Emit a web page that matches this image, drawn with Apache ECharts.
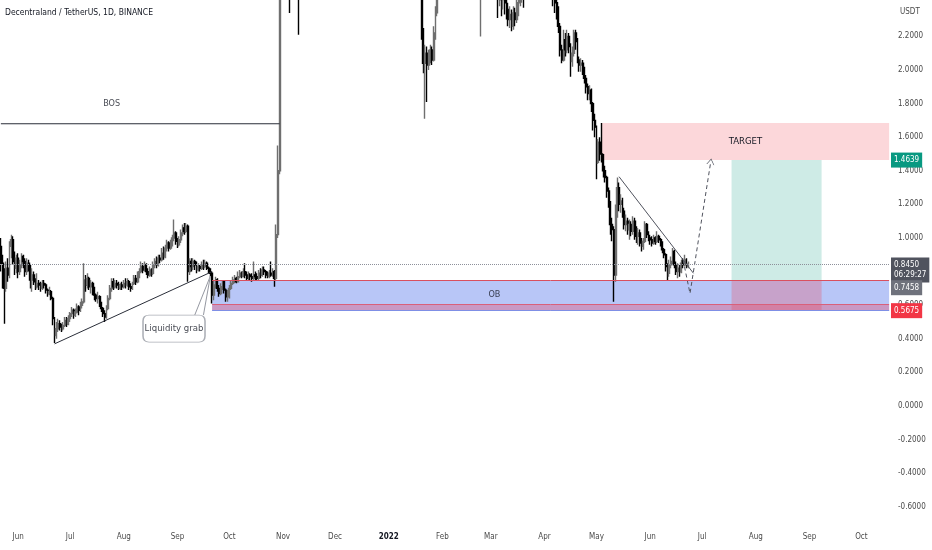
<!DOCTYPE html>
<html>
<head>
<meta charset="utf-8">
<title>Decentraland / TetherUS</title>
<script src="https://cdn.jsdelivr.net/npm/echarts@6/dist/echarts.min.js"></script>
<style>
html,body{margin:0;padding:0;background:#ffffff;}
#chart{width:932px;height:550px;}
</style>
</head>
<body>
<div id="chart"></div>
<script>
// ---------------- data (daily candles, first candle 2021-05-22) ----------------
const firstDate = '2021-05-22';
const axisLastDate = '2022-10-17';
const axisDayCount = 514;
const firstOpen = 0.95;

const closes = [
  // May 22-31 2021
  0.85,0.75,0.70,0.82,0.78,0.95,0.99,0.86,0.82,0.88,
  // Jun 2021
  0.80,0.84,0.89,0.86,0.80,0.85,0.83,0.75,0.78,0.74, 0.71,0.73,0.72,0.70,0.73,0.72,0.69,0.67,0.68,0.64,
  0.52,0.42,0.46,0.49,0.47,0.46,0.48,0.51,0.49,0.52,
  // Jul 2021
  0.55,0.57,0.54,0.56,0.59,0.57,0.60,0.62,0.75,0.72, 0.76,0.71,0.73,0.69,0.66,0.64,0.65,0.61,0.58,0.55,
  0.53,0.58,0.64,0.70,0.74,0.71,0.73,0.72,0.70,0.72, 0.71,
  // Aug 2021
  0.73,0.72,0.74,0.71,0.70,0.73,0.76,0.74,0.78,0.80, 0.83,0.81,0.84,0.80,0.78,0.81,0.79,0.84,0.86,0.84,
  0.88,0.87,0.91,0.89,0.94,0.97,0.94,0.96,1.00,1.03, 0.98,
  // Sep 2021
  0.96,0.99,1.03,1.06,1.04,1.07,0.80,0.86,0.83,0.86, 0.84,0.81,0.83,0.82,0.84,0.83,0.85,0.82,0.81,0.79,
  0.66,0.72,0.75,0.70,0.67,0.71,0.74,0.69,0.65,0.67,
  // Oct 2021
  0.70,0.73,0.75,0.76,0.74,0.77,0.79,0.77,0.80,0.78, 0.76,0.78,0.77,0.76,0.78,0.77,0.76,0.79,0.78,0.81,
  0.80,0.78,0.77,0.79,0.78,0.80,0.76,1.02,1.40,2.75, 3.10,
  // Nov 2021
  2.90,2.75,2.70,2.80,2.62,2.75,2.90,3.05,2.80,2.70, 2.95,3.10,3.30,3.20,3.45,3.35,3.60,3.55,3.75,4.10,
  4.60,4.90,5.30,5.00,4.70,4.55,4.40,4.20,4.00,3.85,
  // Dec 2021
  3.70,3.90,3.55,3.40,3.20,3.35,3.30,3.10,3.00,3.15, 3.05,2.90,3.05,2.95,3.10,3.20,3.40,3.30,3.35,3.55,
  3.70,3.60,3.50,3.65,3.45,3.30,3.20,3.25,3.15,3.05, 3.10,
  // Jan 2022
  3.20,3.30,3.35,3.15,3.00,2.85,2.90,2.80,2.75,2.85, 3.00,3.10,3.05,3.00,3.10,3.00,2.85,2.90,2.75,2.22,
  2.04,2.10,2.03,2.08,2.12,2.06,2.22,2.34,2.50,2.60, 2.55,
  // Feb 2022
  2.70,2.80,2.65,2.90,3.10,3.25,3.20,3.10,3.20,3.05, 2.90,2.85,2.80,2.95,2.90,2.75,2.65,2.70,2.60,2.55,
  2.62,2.55,2.65,2.75,2.70,2.85,2.95,2.90,
  // Mar 2022
  2.80,2.70,2.60,2.50,2.45,2.50,2.42,2.48,2.40,2.36, 2.30,2.33,2.26,2.34,2.30,2.40,2.45,2.52,2.58,2.55,
  2.65,2.62,2.75,2.85,2.80,2.90,2.95,3.00,2.90,2.85, 2.80,
  // Apr 2022
  2.85,2.95,2.90,2.85,2.55,2.45,2.40,2.36,2.26,2.12, 2.06,2.18,2.12,2.20,2.14,2.05,2.10,2.22,2.17,2.06,
  2.03,2.04,2.00,1.95,1.90,1.86,1.88,1.80,1.70,1.66,
  // May 2022
  1.45,1.57,1.50,1.47,1.40,1.36,1.28,1.21,1.08,1.05, 0.78,1.15,1.30,1.20,1.22,1.16,1.08,1.10,1.05,1.08,
  1.04,1.10,1.05,1.01,1.03,0.97,0.95,0.98,1.08,1.02, 1.00,
  // Jun 1-23 2022
  0.99,0.97,1.00,0.98,1.01,0.99,0.97,0.93,0.90,0.83, 0.79,0.84,0.86,0.92,0.84,0.80,0.82,0.80,0.85,0.84,
  0.87,0.83,0.845
];

const highs = [
  1.00,0.90,0.82,0.86,0.88,0.98,1.02,1.01,0.92,0.90,
  0.91,0.87,0.91,0.90,0.88,0.88,0.87,0.84,0.82,0.80, 0.76,0.79,0.75,0.74,0.75,0.75,0.73,0.70,0.71,0.69,
  0.65,0.53,0.50,0.52,0.51,0.49,0.50,0.53,0.53,0.54,
  0.56,0.59,0.58,0.58,0.61,0.60,0.62,0.64,0.85,0.78, 0.79,0.77,0.75,0.74,0.71,0.67,0.68,0.66,0.62,0.59,
  0.57,0.60,0.66,0.72,0.76,0.76,0.75,0.75,0.74,0.73, 0.74,
  0.75,0.76,0.76,0.75,0.73,0.74,0.78,0.78,0.80,0.82, 0.86,0.85,0.86,0.85,0.82,0.83,0.82,0.86,0.88,0.89,
  0.90,0.90,0.94,0.95,0.96,0.99,0.98,0.99,1.02,1.11, 1.04,
  1.00,1.01,1.05,1.08,1.09,1.09,1.08,0.88,0.88,0.88, 0.87,0.86,0.85,0.84,0.86,0.87,0.87,0.86,0.83,0.82,
  0.80,0.75,0.77,0.76,0.72,0.73,0.75,0.74,0.70,0.69,
  0.72,0.75,0.77,0.78,0.77,0.80,0.81,0.80,0.82,0.85, 0.80,0.80,0.79,0.79,0.86,0.80,0.79,0.81,0.82,0.83,
  0.83,0.81,0.80,0.81,0.86,0.82,0.81,1.08,1.55,3.20, 3.50,
  3.30,3.00,2.95,2.95,2.90,2.85,3.00,3.20,3.10,2.90, 3.05,3.25,3.45,3.45,3.60,3.55,3.80,3.75,3.95,4.30,
  4.80,5.20,5.90,5.50,5.10,4.90,4.70,4.50,4.30,4.10,
  3.95,4.05,3.95,3.65,3.50,3.45,3.50,3.40,3.20,3.25, 3.20,3.10,3.15,3.10,3.20,3.35,3.50,3.50,3.45,3.65,
  3.85,3.80,3.70,3.75,3.70,3.50,3.40,3.35,3.30,3.20, 3.20,
  3.35,3.40,3.50,3.40,3.20,3.05,3.00,2.95,2.90,2.95, 3.10,3.25,3.20,3.15,3.20,3.15,3.05,3.00,2.95,2.80,
  2.25,2.15,2.14,2.12,2.15,2.14,2.26,2.38,2.60,2.70, 2.70,
  2.85,2.90,2.85,2.95,3.20,3.35,3.35,3.25,3.30,3.25, 3.10,2.95,2.95,3.00,3.05,2.95,2.80,2.80,2.75,2.65,
  2.70,2.68,2.70,2.85,2.85,2.95,3.05,3.00,
  2.95,2.85,2.75,2.65,2.55,2.58,2.55,2.56,2.52,2.45, 2.40,2.38,2.36,2.38,2.37,2.48,2.55,2.60,2.65,2.68,
  2.75,2.72,2.85,2.95,2.95,3.00,3.05,3.10,3.05,2.95, 2.90,
  2.95,3.05,3.00,2.95,2.88,2.58,2.50,2.45,2.38,2.28, 2.15,2.24,2.22,2.24,2.22,2.16,2.14,2.24,2.24,2.19,
  2.08,2.07,2.06,2.02,1.97,1.92,1.91,1.89,1.81,1.74,
  1.67,1.59,1.60,1.685,1.50,1.43,1.37,1.30,1.22,1.12, 1.07,1.20,1.36,1.33,1.26,1.24,1.18,1.14,1.12,1.11,
  1.10,1.13,1.12,1.07,1.06,1.05,1.00,1.00,1.10,1.09, 1.04,
  1.02,1.01,1.02,1.01,1.04,1.02,1.00,0.98,0.94,0.91, 0.85,0.87,0.89,0.94,0.93,0.86,0.85,0.84,0.87,0.88,
  0.90,0.88,0.86
];

const lows = [
  0.80,0.70,0.49,0.68,0.74,0.76,0.88,0.84,0.78,0.79,
  0.76,0.78,0.82,0.82,0.77,0.78,0.80,0.70,0.68,0.72, 0.69,0.70,0.69,0.68,0.69,0.70,0.67,0.65,0.66,0.63,
  0.48,0.375,0.40,0.44,0.45,0.44,0.45,0.47,0.47,0.48,
  0.50,0.53,0.52,0.53,0.55,0.54,0.56,0.58,0.61,0.68, 0.70,0.69,0.67,0.66,0.63,0.62,0.61,0.59,0.56,0.53,
  0.50,0.52,0.57,0.63,0.68,0.69,0.70,0.70,0.69,0.69, 0.69,
  0.70,0.70,0.71,0.69,0.68,0.69,0.72,0.72,0.73,0.76, 0.79,0.79,0.80,0.78,0.76,0.77,0.77,0.78,0.82,0.82,
  0.83,0.85,0.86,0.87,0.88,0.92,0.92,0.93,0.95,0.98, 0.96,
  0.94,0.95,0.97,1.01,1.02,1.03,0.74,0.78,0.80,0.81, 0.81,0.79,0.80,0.80,0.81,0.81,0.82,0.81,0.79,0.77,
  0.61,0.63,0.70,0.68,0.65,0.66,0.69,0.67,0.62,0.62,
  0.64,0.69,0.72,0.73,0.73,0.74,0.76,0.76,0.77,0.76, 0.75,0.75,0.75,0.74,0.75,0.75,0.75,0.75,0.76,0.77,
  0.78,0.76,0.76,0.76,0.77,0.77,0.71,0.75,1.00,1.38, 2.60,
  2.70,2.55,2.50,2.55,2.34,2.50,2.65,2.80,2.60,2.21, 2.60,2.85,3.00,3.05,3.15,3.20,3.30,3.35,3.45,3.70,
  4.00,4.40,4.80,4.70,4.40,4.20,4.05,3.90,3.70,3.55,
  3.50,3.60,2.70,3.10,3.00,3.10,3.15,2.95,2.85,2.95, 2.90,2.75,2.80,2.85,2.90,3.00,3.15,3.20,3.20,3.30,
  3.50,3.45,3.40,3.45,3.35,3.20,3.05,3.10,3.00,2.95, 2.95,
  3.05,3.10,3.20,3.05,2.85,2.70,2.75,2.65,2.60,2.65, 2.80,2.95,2.95,2.90,2.95,2.90,2.75,2.75,2.65,2.18,
  1.98,1.71,1.81,2.00,2.04,2.03,2.05,2.18,2.32,2.45, 2.45,
  2.50,2.60,2.55,2.60,2.85,3.05,3.10,3.00,3.05,2.95, 2.80,2.75,2.70,2.75,2.80,2.70,2.55,2.60,2.50,2.45,
  2.48,2.46,2.20,2.55,2.60,2.65,2.75,2.80,
  2.70,2.60,2.50,2.42,2.31,2.38,2.32,2.36,2.33,2.30, 2.26,2.25,2.23,2.24,2.26,2.28,2.32,2.38,2.40,2.37,
  2.45,2.50,2.58,2.70,2.70,2.75,2.80,2.85,2.80,2.75, 2.70,
  2.75,2.80,2.80,2.70,2.48,2.38,2.34,2.30,2.22,2.08, 2.04,2.05,2.08,2.10,2.10,1.96,2.02,2.08,2.12,2.04,
  1.99,1.99,1.97,1.92,1.86,1.82,1.82,1.75,1.64,1.60,
  1.35,1.44,1.46,1.45,1.36,1.33,1.24,1.18,1.02,0.98, 0.62,0.74,1.12,1.16,1.15,1.12,1.05,1.04,1.02,0.99,
  1.01,1.02,0.99,0.97,0.96,0.95,0.92,0.93,0.97,1.00, 0.98,
  0.96,0.95,0.96,0.96,0.97,0.97,0.95,0.91,0.88,0.80, 0.75,0.77,0.82,0.84,0.82,0.78,0.76,0.77,0.79,0.82,
  0.83,0.82,0.82
];

// price levels of the drawings (long position tool, zones)
const entryPrice = 0.7458;
const targetPrice = 1.4639;
const stopPrice = 0.5675;
const lastPrice = 0.8450;
const targetZoneTop = 1.685;
const obBandTop = 0.603;
const bosPrice = 1.68;
const countdown = '06:29:27';

// drawing anchors: [date, price]
const bosLine = [['2021-05-22', bosPrice], ['2021-10-30', bosPrice]];
const riseTrend = [['2021-06-22', 0.37], ['2021-09-21', 0.80]];
const fallTrend = [['2022-05-14', 1.365], ['2022-06-26', 0.79]];
const projection = [['2022-06-20', 0.87], ['2022-06-24', 0.67], ['2022-07-06', 1.455]];
const grabPointer = [['2021-09-11', 0.542], ['2021-09-20', 0.774], ['2021-09-16', 0.542]];
const grabBox = ['2021-08-30', 0.461];
const obStart = '2021-09-21';
const targetStart = '2022-05-04';
const positionStart = '2022-07-18';
const positionEnd = '2022-09-08';
const textMarks = [
  {text: 'BOS', date: '2021-07-25', price: 1.80},
  {text: 'OB', date: '2022-03-03', price: 0.66}
];

const monthNames = ['Jan','Feb','Mar','Apr','May','Jun','Jul','Aug','Sep','Oct','Nov','Dec'];

// ---------------- build ----------------
const FONT = "'Liberation Sans Narrow','DejaVu Sans Condensed','Liberation Sans',sans-serif";
const dates = [];
{
  const t0 = Date.parse(firstDate + 'T00:00:00Z');
  for (let i = 0; i < axisDayCount; i++) {
    dates.push(new Date(t0 + i * 86400000).toISOString().slice(0, 10));
  }
}
const ohlc = closes.map((c, i) => [i ? closes[i - 1] : firstOpen, c, lows[i], highs[i]]);

const tag = (bg, extra) => Object.assign({
  show: true, position: 'end', distance: 1, color: '#ffffff', backgroundColor: bg,
  fontSize: 8, fontFamily: FONT, padding: [3, 3, 2, 3], lineHeight: 10
}, extra || {});
const hiddenLine = {color: 'rgba(0,0,0,0)', width: 1, type: 'solid'};
const calloutShape = 'path://M6,0 H56 Q62,0 62,6 V21 Q62,27 56,27 H6 Q0,27 0,21 V6 Q0,0 6,0 Z';

const chart = echarts.init(document.getElementById('chart'), null, {renderer: 'canvas'});
chart.setOption({
  animation: false,
  backgroundColor: '#ffffff',
  title: [
    {text: 'Decentraland / TetherUS, 1D, BINANCE', left: 5, top: 8, padding: 0,
     textStyle: {fontSize: 8.5, fontWeight: 'normal', color: '#131722', fontFamily: FONT}},
    {text: 'USDT', left: 900, top: 8, padding: 0,
     textStyle: {fontSize: 8, fontWeight: 'normal', color: '#4a4a4a', fontFamily: FONT}}
  ],
  grid: {left: 0, right: 42, top: 0, bottom: 25, containLabel: false},
  xAxis: {
    type: 'category', data: dates, boundaryGap: true,
    axisLine: {show: false}, axisTick: {show: false}, splitLine: {show: false},
    axisLabel: {
      interval: (idx, v) => v.slice(8) === '01',
      formatter: (v) => {
        const m = +v.slice(5, 7);
        return m === 1 ? '{yr|' + v.slice(0, 4) + '}' : monthNames[m - 1];
      },
      rich: {yr: {fontWeight: 'bold', fontSize: 8, color: '#131722', fontFamily: FONT}},
      color: '#4a4a4a', fontSize: 8, fontFamily: FONT, margin: 8
    }
  },
  yAxis: {
    type: 'value', position: 'right', min: -0.7083, max: 2.4167, splitNumber: 15,
    axisLine: {show: false}, axisTick: {show: false}, splitLine: {show: false},
    axisLabel: {
      formatter: (v) => (v > 2.3 || v < -0.65) ? '' : v.toFixed(4),
      color: '#4a4a4a', fontSize: 8, fontFamily: FONT, margin: 8,
      showMinLabel: false, showMaxLabel: false
    }
  },
  series: [
    {
      type: 'candlestick', name: 'MANAUSDT', data: ohlc, barWidth: 1.4, z: 3,
      itemStyle: {color: '#808080', color0: '#000000', borderColor: '#6f6f6f', borderColor0: '#000000', borderWidth: 1.4},
      markArea: {
        silent: true, z: 1, label: {show: false},
        data: [
          [{xAxis: obStart, yAxis: stopPrice, itemStyle: {color: '#b8c6f7'}}, {xAxis: axisLastDate, yAxis: entryPrice}],
          [{xAxis: obStart, yAxis: stopPrice, itemStyle: {color: 'rgba(236,60,95,0.33)'}}, {xAxis: axisLastDate, yAxis: obBandTop}],
          [{xAxis: positionStart, yAxis: entryPrice, itemStyle: {color: 'rgba(8,153,129,0.2)'}}, {xAxis: positionEnd, yAxis: targetPrice}],
          [{xAxis: positionStart, yAxis: stopPrice, itemStyle: {color: 'rgba(242,54,69,0.25)'}}, {xAxis: positionEnd, yAxis: entryPrice}],
          [{name: 'TARGET', xAxis: targetStart, yAxis: targetPrice, itemStyle: {color: 'rgba(242,54,69,0.2)'},
            label: {show: true, position: 'inside', color: '#131722', fontSize: 9.5, fontFamily: FONT}},
           {xAxis: axisLastDate, yAxis: targetZoneTop}]
        ]
      },
      markLine: {
        silent: true, symbol: 'none', z: 6, precision: 4,
        data: [
          {yAxis: lastPrice, lineStyle: {color: '#8d909a', type: 'dotted', width: 1},
           label: tag('#50535e', {formatter: lastPrice.toFixed(4) + '\n' + countdown, offset: [0, 6]})},
          {yAxis: targetPrice, lineStyle: hiddenLine, label: tag('#089981', {formatter: targetPrice.toFixed(4)})},
          {yAxis: entryPrice, lineStyle: hiddenLine, label: tag('#6f727c', {formatter: entryPrice.toFixed(4), offset: [0, 7]})},
          {yAxis: stopPrice, lineStyle: hiddenLine, label: tag('#f23645', {formatter: stopPrice.toFixed(4)})},
          [{xAxis: obStart, yAxis: entryPrice, lineStyle: {color: '#d9505f', width: 1, type: 'solid'}, label: {show: false}},
           {xAxis: axisLastDate, yAxis: entryPrice}],
          [{xAxis: obStart, yAxis: obBandTop, lineStyle: {color: '#d9607a', width: 1, type: 'solid'}, label: {show: false}},
           {xAxis: axisLastDate, yAxis: obBandTop}],
          [{xAxis: obStart, yAxis: stopPrice, lineStyle: {color: '#7f8fe6', width: 1, type: 'solid'}, label: {show: false}},
           {xAxis: axisLastDate, yAxis: stopPrice}]
        ]
      }
    },
    {type: 'line', data: bosLine, symbol: 'none', silent: true, z: 4, lineStyle: {color: '#2a2e39', width: 1}},
    {type: 'line', data: riseTrend, symbol: 'none', silent: true, z: 4, lineStyle: {color: '#2a2e39', width: 1}},
    {type: 'line', data: fallTrend, symbol: 'none', silent: true, z: 4, lineStyle: {color: '#50535e', width: 1}},
    {type: 'line', silent: true, z: 4, symbol: 'none', showSymbol: true, showAllSymbol: true,
     lineStyle: {color: '#50535e', width: 1, type: [4, 3]},
     data: projection.map((p, i) => i === projection.length - 1
        ? {value: p, symbol: 'path://M0,10 L5,0 L10,10 L9,10 L5,2 L1,10 Z', symbolSize: [8, 6], symbolRotate: -9, itemStyle: {color: '#50535e'}}
        : {value: p})},
    {type: 'line', data: grabPointer, symbol: 'none', silent: true, z: 5, lineStyle: {color: '#9598a1', width: 1}},
    {type: 'scatter', silent: true, z: 8,
     data: [{name: 'Liquidity grab', value: grabBox}],
     symbol: calloutShape, symbolSize: [62, 27],
     itemStyle: {color: '#ffffff', borderColor: '#9598a1', borderWidth: 1},
     label: {show: true, position: 'inside', formatter: '{b}', color: '#131722', fontSize: 9.5, fontFamily: FONT}},
    {type: 'scatter', silent: true, z: 8, symbolSize: 0,
     data: textMarks.map(t => ({name: t.text, value: [t.date, t.price]})),
     label: {show: true, position: 'inside', formatter: '{b}', color: '#131722', fontSize: 9, fontFamily: FONT}}
  ]
});
</script>
</body>
</html>
